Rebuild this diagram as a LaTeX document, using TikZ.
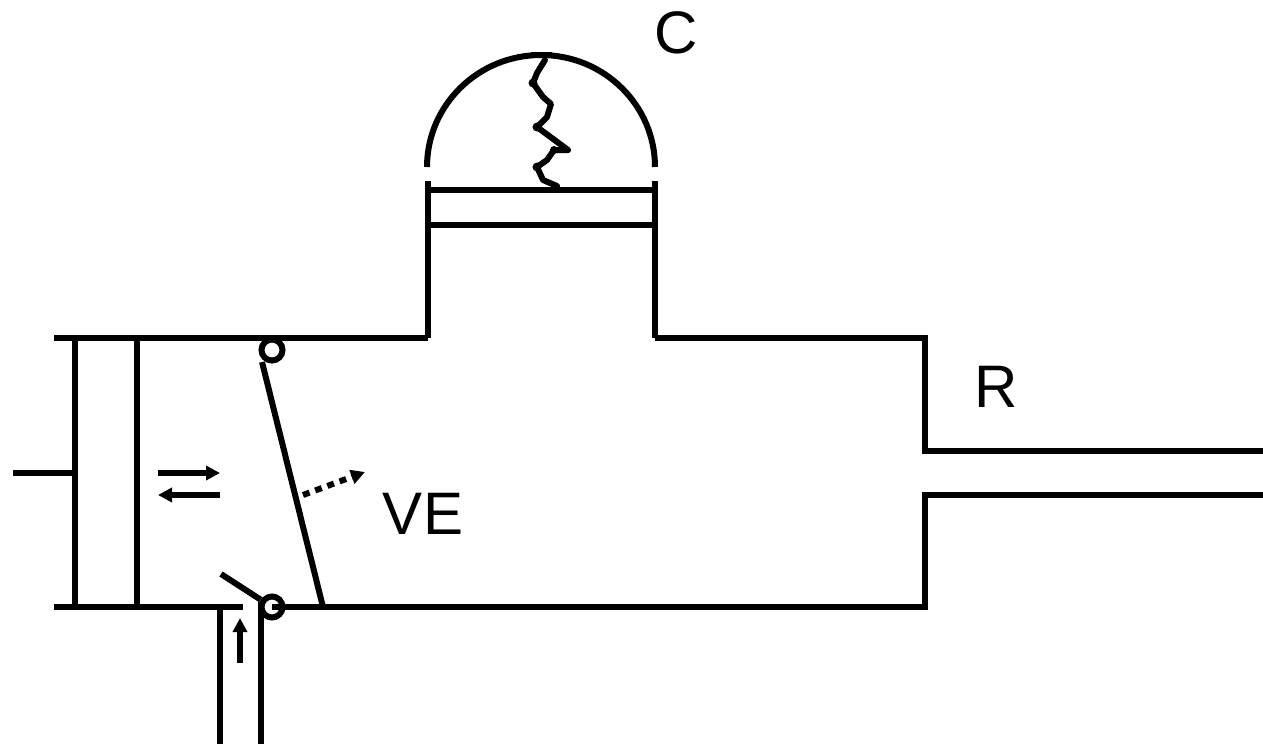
\documentclass[tikz,border=0pt]{standalone}
\usepackage{fontspec}
\setmainfont{Liberation Sans}
\usetikzlibrary{arrows.meta}
\tikzset{
  wall/.style={line width=6pt,line cap=butt,line join=miter},
  pivot/.style={circle,draw,line width=6pt,minimum size=21pt,inner sep=0pt},
  flow/.style={line width=6pt,-{Triangle[length=14pt,width=14pt]}},
  lbl/.style={font=\fontsize{60}{64}\selectfont,inner sep=0pt}
}
\begin{document}
\begin{tikzpicture}[x=1pt,y=-1pt]
\useasboundingbox (0,0) rectangle (1263,744);
% key points
\coordinate (tl) at (54,338);
\coordinate (tm1) at (428,338);
\coordinate (tm2) at (655,338);
\coordinate (tr) at (925,338);
\coordinate (ru) at (925,451);
\coordinate (reu) at (1263,451);
\coordinate (rl) at (925,495);
\coordinate (rel) at (1263,495);
\coordinate (br) at (925,607);
\coordinate (bl) at (54,607);
\coordinate (bg) at (243,607);
\coordinate (bg2) at (272,607);
% walls
\draw[wall] (tl) -- (tm1);
\draw[wall] (tm2) -- (tr) -- (ru) -- (reu);
\draw[wall] (rel) -- (rl) -- (br) -- (bg2);
\draw[wall] (bl) -- (bg);
% piston
\coordinate (p1t) at (75,338); \coordinate (p1b) at (75,607);
\coordinate (p2t) at (137,338); \coordinate (p2b) at (137,607);
\coordinate (rodend) at (13,473); \coordinate (rodjoin) at (75,473);
\draw[wall] (p1t) -- (p1b);
\draw[wall] (p2t) -- (p2b);
\draw[wall] (rodend) -- (rodjoin);
% neck and plate
\coordinate (nl) at (428,181); \coordinate (nr) at (655,181);
\coordinate (pl1) at (428,190); \coordinate (pr1) at (655,190);
\coordinate (pl2) at (428,225); \coordinate (pr2) at (655,225);
\draw[wall] (nl) -- (tm1);
\draw[wall] (nr) -- (tm2);
\draw[line width=6pt] (pl1) -- (pr1);
\draw[wall] (pl2) -- (pr2);
% dome
\draw[line width=6pt] (427,167) arc[start angle=180,end angle=360,x radius=114,y radius=112];
\draw[line width=4pt] (531,54) -- (552,54);
% crack
\draw[line width=6pt,line join=round,line cap=round]
  (545,60) -- (537,73) -- (533,83) -- (543,97) -- (551,104) -- (547,117) -- (537,127)
  -- (568,150) -- (554,150) -- (547,160) -- (537,167) -- (543,180) -- (557,186);
\fill (533,83) circle[radius=4.5pt] (537,127) circle[radius=4.5pt] (537,167) circle[radius=4.5pt] (554,150) circle[radius=4pt];
% pivots
\node[pivot] (pt) at (272,350) {};
\node[pivot] (pb) at (272,607) {};
% valve
\coordinate (vb) at (323,607);
\coordinate (vt) at (262,362);
\draw[wall] (vt) -- (vb);
\coordinate (fl) at (221,574);
\draw[wall] (fl) -- (pb);
% inlet pipe
\coordinate (il) at (220,604); \coordinate (ile) at (220,744);
\coordinate (ir) at (261,602); \coordinate (ire) at (261,744);
\draw[wall] (il) -- (ile);
\draw[wall] (ir) -- (ire);
% arrows
\coordinate (a1) at (158,473); \coordinate (a2) at (220,473);
\coordinate (b1) at (220,495); \coordinate (b2) at (158,495);
\coordinate (c1) at (240,663); \coordinate (c2) at (240,618);
\coordinate (d1) at (303,495); \coordinate (d2) at (365,472);
\draw[flow] (a1) -- (a2);
\draw[flow] (b1) -- (b2);
\draw[flow] (c1) -- (c2);
\draw[line width=6pt,dash pattern=on 7pt off 6pt,-{Triangle[length=14pt,width=14pt]}] (d1) -- (d2);
% labels
\node[lbl] (C) at (676,33) {C};
\node[lbl] (R) at (996,387) {R};
\node[lbl] (VE) at (423,514) {VE};
\end{tikzpicture}
\end{document}
